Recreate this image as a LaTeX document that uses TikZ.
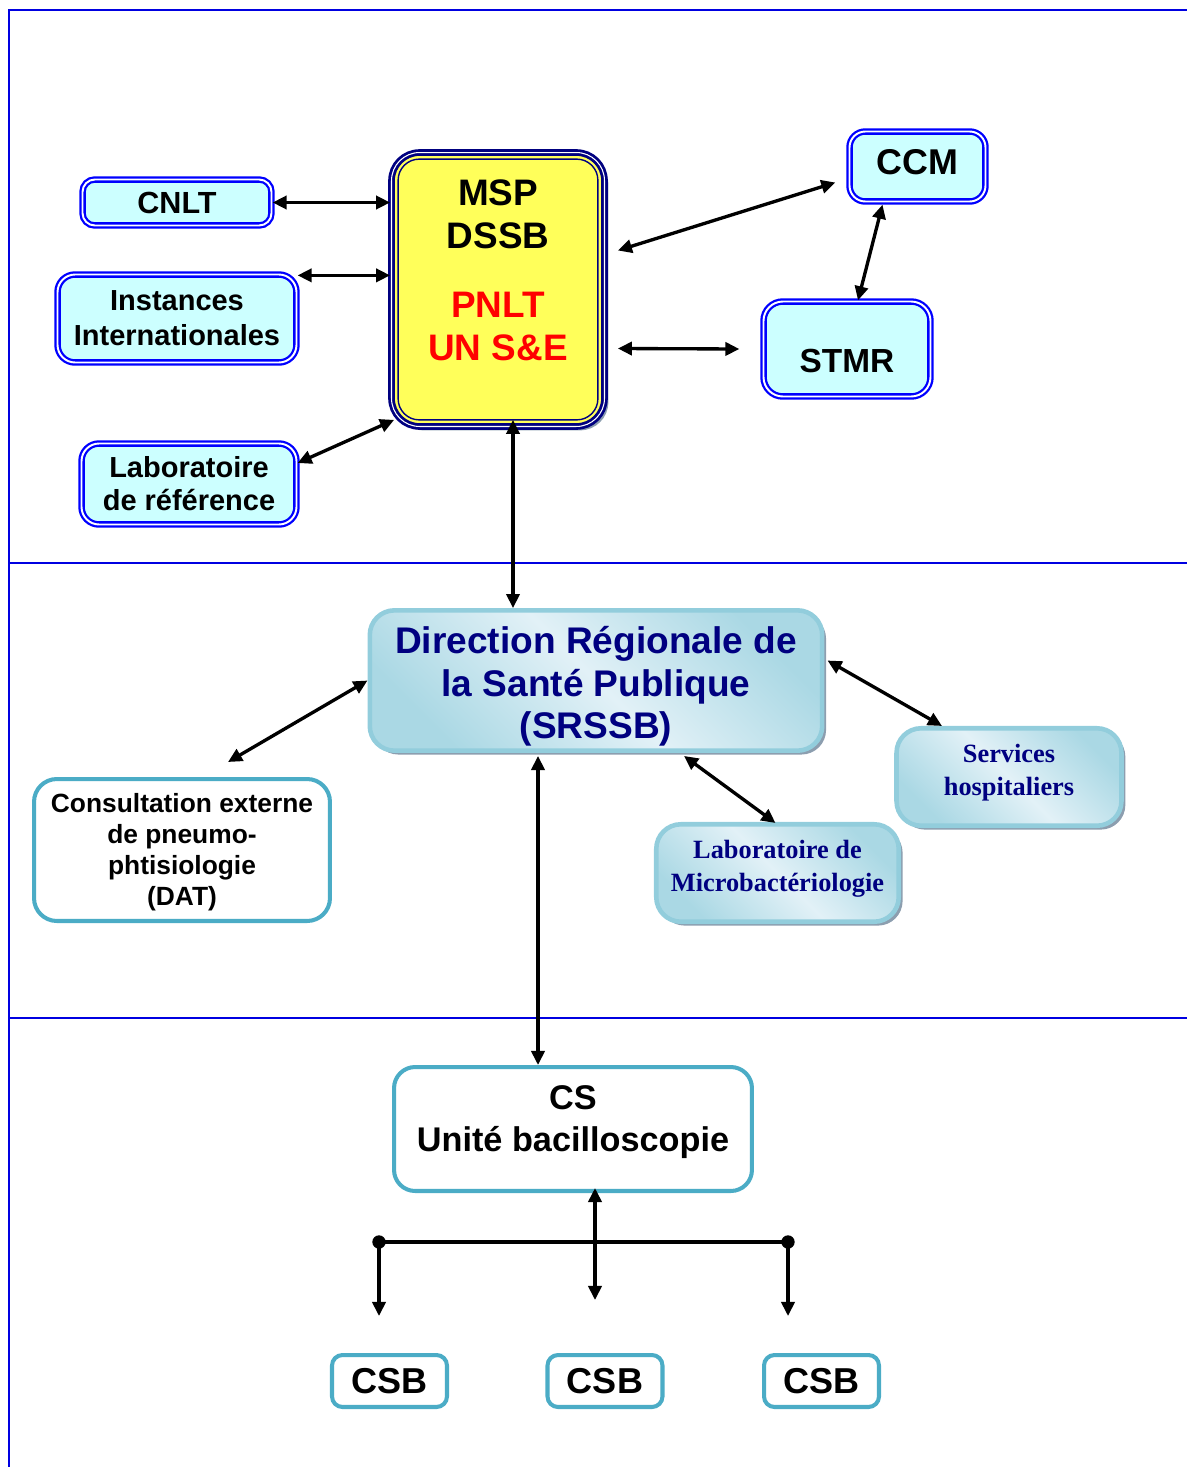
\documentclass[tikz,border=0pt]{standalone}
\usepackage{fontspec}
\setmainfont{Liberation Sans}
\newfontfamily\timesbold{Liberation Serif}
\usetikzlibrary{calc,shapes,positioning}
\usetikzlibrary{shadows}
\usetikzlibrary{arrows.meta}
\tikzset{>={Triangle[width=7.5pt,length=8pt]}}

\definecolor{cyanfill}{RGB}{204,255,255}
\definecolor{frameblue}{RGB}{0,0,225}
\definecolor{navyb}{RGB}{0,0,128}
\definecolor{mspyellow}{RGB}{255,255,90}
\definecolor{tealb}{RGB}{75,172,198}
\definecolor{aquadark}{RGB}{146,205,220}
\definecolor{aquamid}{RGB}{170,216,228}
\definecolor{aqualight}{RGB}{226,241,247}
\definecolor{shadowc}{RGB}{140,158,175}

% shift the text inside a node, keeping its box
\newcommand{\shiftup}[2]{\raisebox{#1}[\height][\depth]{#2}}
\newcommand{\liftup}[2]{\raisebox{#1}[\height][\depth]{\begin{tabular}{@{}c@{}}#2\end{tabular}}}

\begin{document}
\begin{tikzpicture}[x=0.02cm, y=-0.02cm]
    \tikzstyle{shd} = [drop shadow={shadow xshift=2.2pt, shadow yshift=-2.2pt, fill=shadowc, opacity=1}]
    \tikzstyle{bnode} = [draw=blue, double=white, line width=1.3pt, double distance=1.1pt, fill=cyanfill, rectangle, align=center, inner sep=2pt]
    \tikzstyle{gnode} = [draw=aquadark, line width=2.6pt, rounded corners=14pt, top color=aquamid, bottom color=aquamid, middle color=aqualight, shading angle=-45, align=center, shd]
    \tikzstyle{wnode} = [draw=tealb, line width=2.3pt, fill=white, rectangle, align=center, inner sep=2pt]
    \tikzstyle{arr} = [<->, line width=1.9pt]
    \tikzstyle{sep} = [frameblue, line width=1.2pt]

    \useasboundingbox (0,0) rectangle (1187,1467);

    % frame
    \draw[sep] (9,1467) -- (9,10) -- (1187,10);
    \draw[sep] (9,563) -- (1187,563);
    \draw[sep] (9,1018) -- (1187,1018);

    % national level
    \node[draw=navyb, double=white, line width=1.6pt, double distance=0.6pt, fill=mspyellow, rounded corners=16pt,
          minimum width=4.26cm, minimum height=5.48cm, font=\fontsize{21}{24.4}\selectfont\bfseries, shd] (msp) at (498,289.5)
          {\liftup{8.5pt}{MSP\\DSSB\\[15pt]\textcolor{red}{PNLT}\\\textcolor{red}{UN S\&E}}};
    \draw[navyb, line width=0.8pt, rounded corners=12pt] ($(msp.south west)+(8,-8)$) rectangle ($(msp.north east)+(-8,8)$);

    \node[bnode, rounded corners=7pt, minimum width=3.78cm, minimum height=0.92cm, font=\fontsize{17.4}{20}\selectfont\bfseries] (cnlt) at (177,202.5) {CNLT};
    \node[bnode, rounded corners=10pt, minimum width=4.78cm, minimum height=1.76cm, font=\fontsize{16.5}{19.8}\selectfont\bfseries] (inst) at (177,318.5) {Instances\\Internationales};
    \node[bnode, rounded corners=10pt, minimum width=4.3cm, minimum height=1.62cm, font=\fontsize{16.5}{18.7}\selectfont\bfseries] (labref) at (189,484) {Laboratoire\\de référence};
    \node[bnode, rounded corners=9pt, minimum width=2.72cm, minimum height=1.4cm, font=\fontsize{20.4}{24}\selectfont\bfseries] (ccm) at (917.5,166.5) {\shiftup{2.3pt}{CCM}};
    \node[bnode, rounded corners=11pt, minimum width=3.34cm, minimum height=1.9cm, font=\fontsize{19}{22}\selectfont\bfseries] (stmr) at (847,349) {\shiftup{-6.8pt}{STMR}};

    % regional level
    \node[gnode, minimum width=9.05cm, minimum height=2.8cm, text=navyb, font=\fontsize{21.1}{24.4}\selectfont\bfseries] (drsp) at (596,680.5)
          {\liftup{-4pt}{Direction Régionale de\\la Santé Publique\\(SRSSB)}};
    \node[gnode, minimum width=4.5cm, minimum height=1.95cm, text=navyb, font=\fontsize{15}{18.7}\selectfont\timesbold\bfseries] (services) at (1009,777)
          {\liftup{2.8pt}{Services\\hospitaliers}};
    \node[gnode, minimum width=4.85cm, minimum height=1.95cm, text=navyb, font=\fontsize{15}{18.7}\selectfont\timesbold\bfseries] (labmicro) at (777.5,873)
          {\liftup{2.5pt}{Laboratoire de\\Microbactériologie}};
    \node[wnode, rounded corners=13pt, minimum width=5.92cm, minimum height=2.84cm, font=\fontsize{15}{17.6}\selectfont\bfseries] (consult) at (182,850)
          {\liftup{-1.5pt}{Consultation externe\\de pneumo-\\phtisiologie\\(DAT)}};

    % district level
    \node[wnode, rounded corners=12pt, minimum width=7.16cm, minimum height=2.48cm, font=\fontsize{19.5}{24.4}\selectfont\bfseries] (cs) at (573,1129)
          {\liftup{4pt}{CS\\Unité bacilloscopie}};
    \node[wnode, rounded corners=6pt, minimum width=2.3cm, minimum height=1.04cm, font=\fontsize{20.5}{24}\selectfont\bfseries] (csb1) at (389.5,1381) {CSB};
    \node[wnode, rounded corners=6pt, minimum width=2.3cm, minimum height=1.04cm, font=\fontsize{20.5}{24}\selectfont\bfseries] (csb2) at (605,1381) {CSB};
    \node[wnode, rounded corners=6pt, minimum width=2.3cm, minimum height=1.04cm, font=\fontsize{20.5}{24}\selectfont\bfseries] (csb3) at (821.5,1381) {CSB};

    \coordinate (ia) at ($(inst.north east)+(0,2)$);
    \coordinate (bl) at (379,1242);
    \coordinate (br) at (788,1242);
    \coordinate (mid) at (595,1300);
    \coordinate (le) at (379,1316);
    \coordinate (re) at (788,1316);

    % connectors
    \draw[arr] (cnlt.east) -- (cnlt.east -| msp.west);
    \draw[arr] (ia) -- (ia -| msp.west);
    \draw[arr] ($(labref.east)+(0,-21)$) -- ($(msp.south west)+(4,-8)$);
    \draw[arr] ($(msp.east)+(12,-39)$) -- ($(ccm.west)+(-13,16)$);
    \draw[arr] ($(msp.east)+(12,59)$) -- ($(stmr.west)+(-23,0)$);
    \draw[arr] ($(ccm.south)+(-35,2)$) -- ($(stmr.north)+(11,0)$);
    \draw[arr] ($(msp.south)+(15,-8)$) -- ($(drsp.north)+(-83,0)$);
    \draw[arr] (drsp.west) -- ($(consult.north)+(46,-15)$);
    \draw[arr] ($(drsp.east)+(3,-20)$) -- ($(services.north)+(-67,0)$);
    \draw[arr] ($(drsp.south)+(88,3)$) -- ($(labmicro.north)+(-2,1)$);
    \draw[arr] ($(drsp.south)+(-58,3)$) -- ($(cs.north)+(-35,0)$);
    \draw[arr] ($(cs.south)+(22,-5)$) -- (mid);

    \draw[line width=1.9pt] (bl) -- (br);
    \fill (bl) circle (3.8pt);
    \fill (br) circle (3.8pt);
    \draw[->, line width=1.9pt] (bl) -- (le);
    \draw[->, line width=1.9pt] (br) -- (re);

\end{tikzpicture}
\end{document}
